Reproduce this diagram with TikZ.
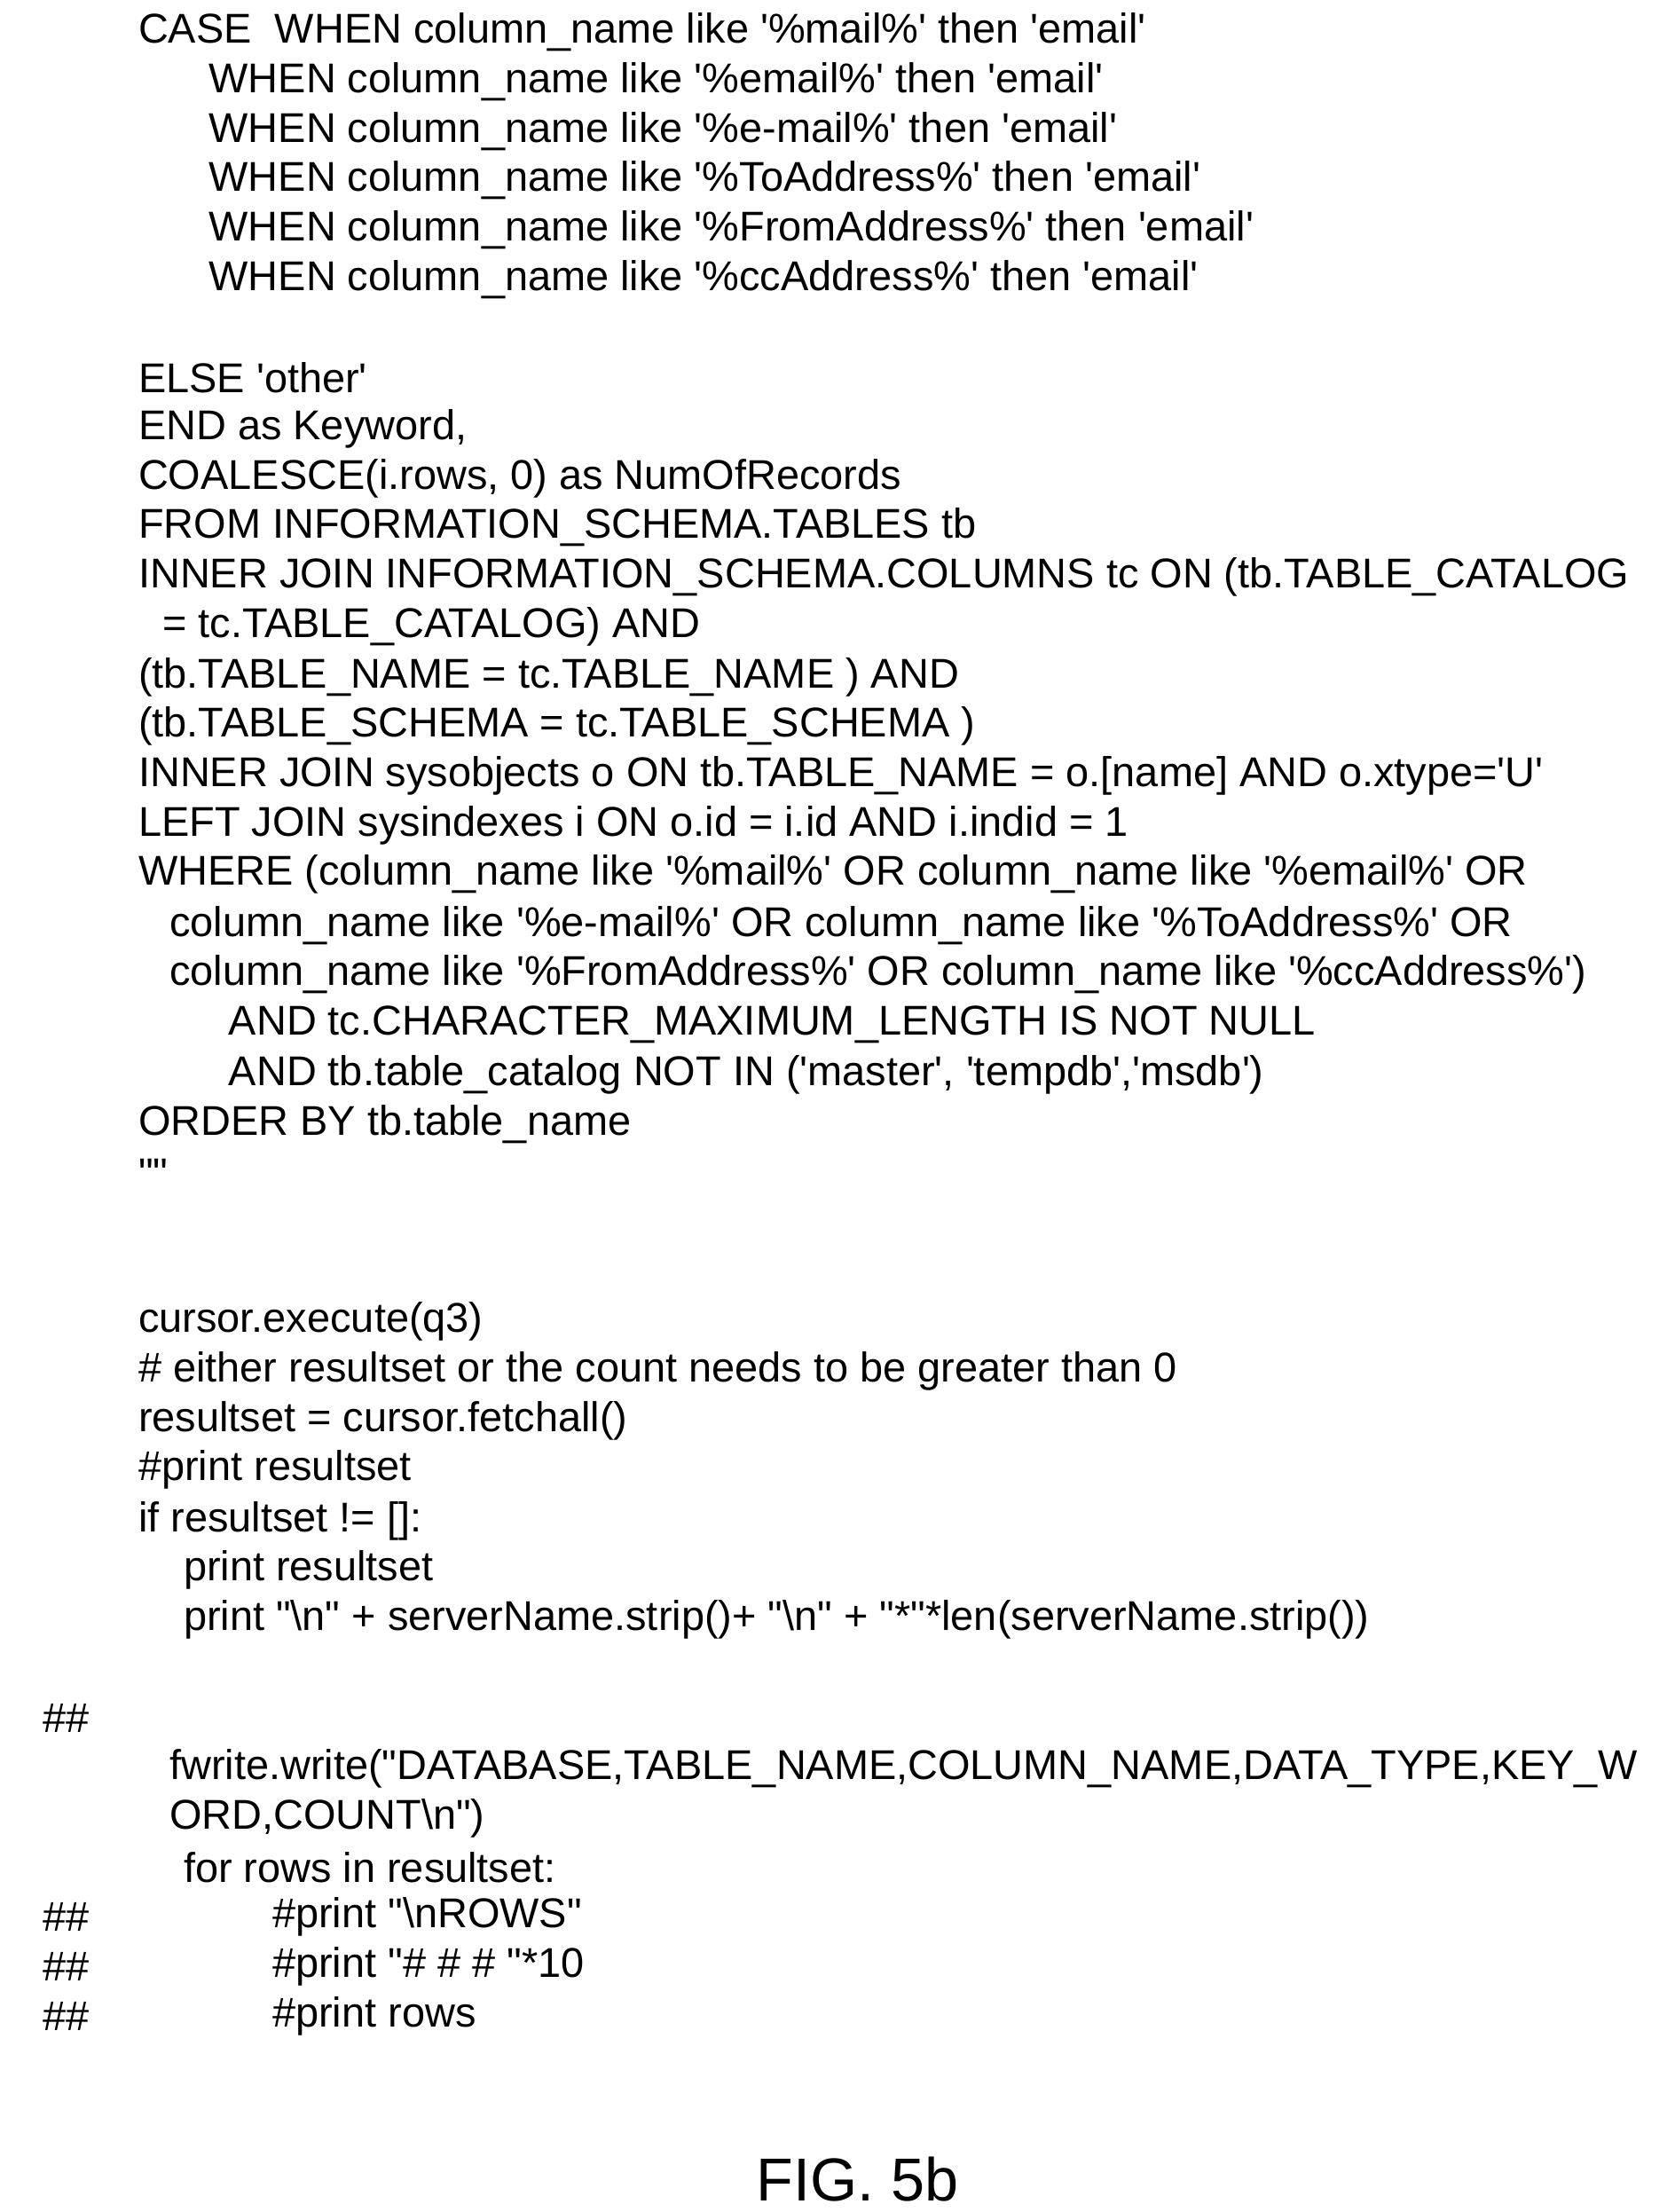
\documentclass[tikz,border=0pt]{standalone}
\usepackage{fontspec}
\setmainfont{Liberation Sans}[Ligatures=TeXOff]
\begin{document}
\begin{tikzpicture}[x=1pt,y=-1pt,t/.style={anchor=west,inner sep=0pt,font=\fontsize{29.5}{33}\selectfont}]
\useasboundingbox[fill=white] (0,0) rectangle (1187,1568);
\node[t] (l1) at (98,23) {CASE\ \ WHEN column\_name like '\%mail\%' then 'email'};
\node[t] (l2) at (148,58) {WHEN column\_name like '\%email\%' then 'email'};
\node[t] (l3) at (148,93) {WHEN column\_name like '\%e-mail\%' then 'email'};
\node[t] (l4) at (148,128) {WHEN column\_name like '\%ToAddress\%' then 'email'};
\node[t] (l5) at (148,163) {WHEN column\_name like '\%FromAddress\%' then 'email'};
\node[t] (l6) at (148,198) {WHEN column\_name like '\%ccAddress\%' then 'email'};
\node[t] (l7) at (98,268) {ELSE 'other'};
\node[t] (l8) at (98,304) {END as Keyword,};
\node[t] (l9) at (98,339) {COALESCE(i.rows, 0) as NumOfRecords};
\node[t] (l10) at (98,374) {FROM INFORMATION\_SCHEMA.TABLES tb};
\node[t] (l11) at (98,409) {INNER JOIN INFORMATION\_SCHEMA.COLUMNS tc ON (tb.TABLE\_CATALOG};
\node[t] (l12) at (115,444) {= tc.TABLE\_CATALOG) AND};
\node[t] (l13) at (98,480) {(tb.TABLE\_NAME = tc.TABLE\_NAME ) AND};
\node[t] (l14) at (98,515) {(tb.TABLE\_SCHEMA = tc.TABLE\_SCHEMA )};
\node[t] (l15) at (98,550) {INNER JOIN sysobjects o ON tb.TABLE\_NAME = o.[name] AND o.xtype='U'};
\node[t] (l16) at (98,585) {LEFT JOIN sysindexes i ON o.id = i.id AND i.indid = 1};
\node[t] (l17) at (98,620) {WHERE (column\_name like '\%mail\%' OR column\_name like '\%email\%' OR};
\node[t] (l18) at (120,656) {column\_name like '\%e-mail\%' OR column\_name like '\%ToAddress\%' OR};
\node[t] (l19) at (120,691) {column\_name like '\%FromAddress\%' OR column\_name like '\%ccAddress\%')};
\node[t] (l20) at (162,726) {AND tc.CHARACTER\_MAXIMUM\_LENGTH IS NOT NULL};
\node[t] (l21) at (162,762) {AND tb.table\_catalog NOT IN ('master', 'tempdb','msdb')};
\node[t] (l22) at (98,797) {ORDER BY tb.table\_name};
\node[t] (l23) at (98,832) {""};
\node[t] (l24) at (98,937) {cursor.execute(q3)};
\node[t] (l25) at (98,972) {\# either resultset or the count needs to be greater than 0};
\node[t] (l26) at (98,1007) {resultset = cursor.fetchall()};
\node[t] (l27) at (98,1042) {\#print resultset};
\node[t] (l28) at (98,1078) {if resultset != []:};
\node[t] (l29) at (130,1113) {print resultset};
\node[t] (l30) at (130,1148) {print "\textbackslash n" + serverName.strip()+ "\textbackslash n" + "*"*len(serverName.strip())};
\node[t] (h1) at (30,1218) {\#\#};
\node[t] (l31) at (120,1254) {fwrite.write("DATABASE,TABLE\_NAME,COLUMN\_NAME,DATA\_TYPE,KEY\_W};
\node[t] (l32) at (120,1289) {ORD,COUNT\textbackslash n")};
\node[t] (l33) at (130,1324) {for rows in resultset:};
\node[t] (h2) at (30,1359) {\#\#};
\node[t] (l34) at (193,1359) {\#print "\textbackslash nROWS"};
\node[t] (h3) at (30,1394) {\#\#};
\node[t] (l35) at (193,1394) {\#print "\# \# \# "*10};
\node[t] (h4) at (30,1429) {\#\#};
\node[t] (l36) at (193,1429) {\#print rows};
\node[anchor=center,inner sep=0pt,font=\fontsize{43}{48}\selectfont] (fig) at (608,1545) {FIG. 5b};
\end{tikzpicture}
\end{document}
